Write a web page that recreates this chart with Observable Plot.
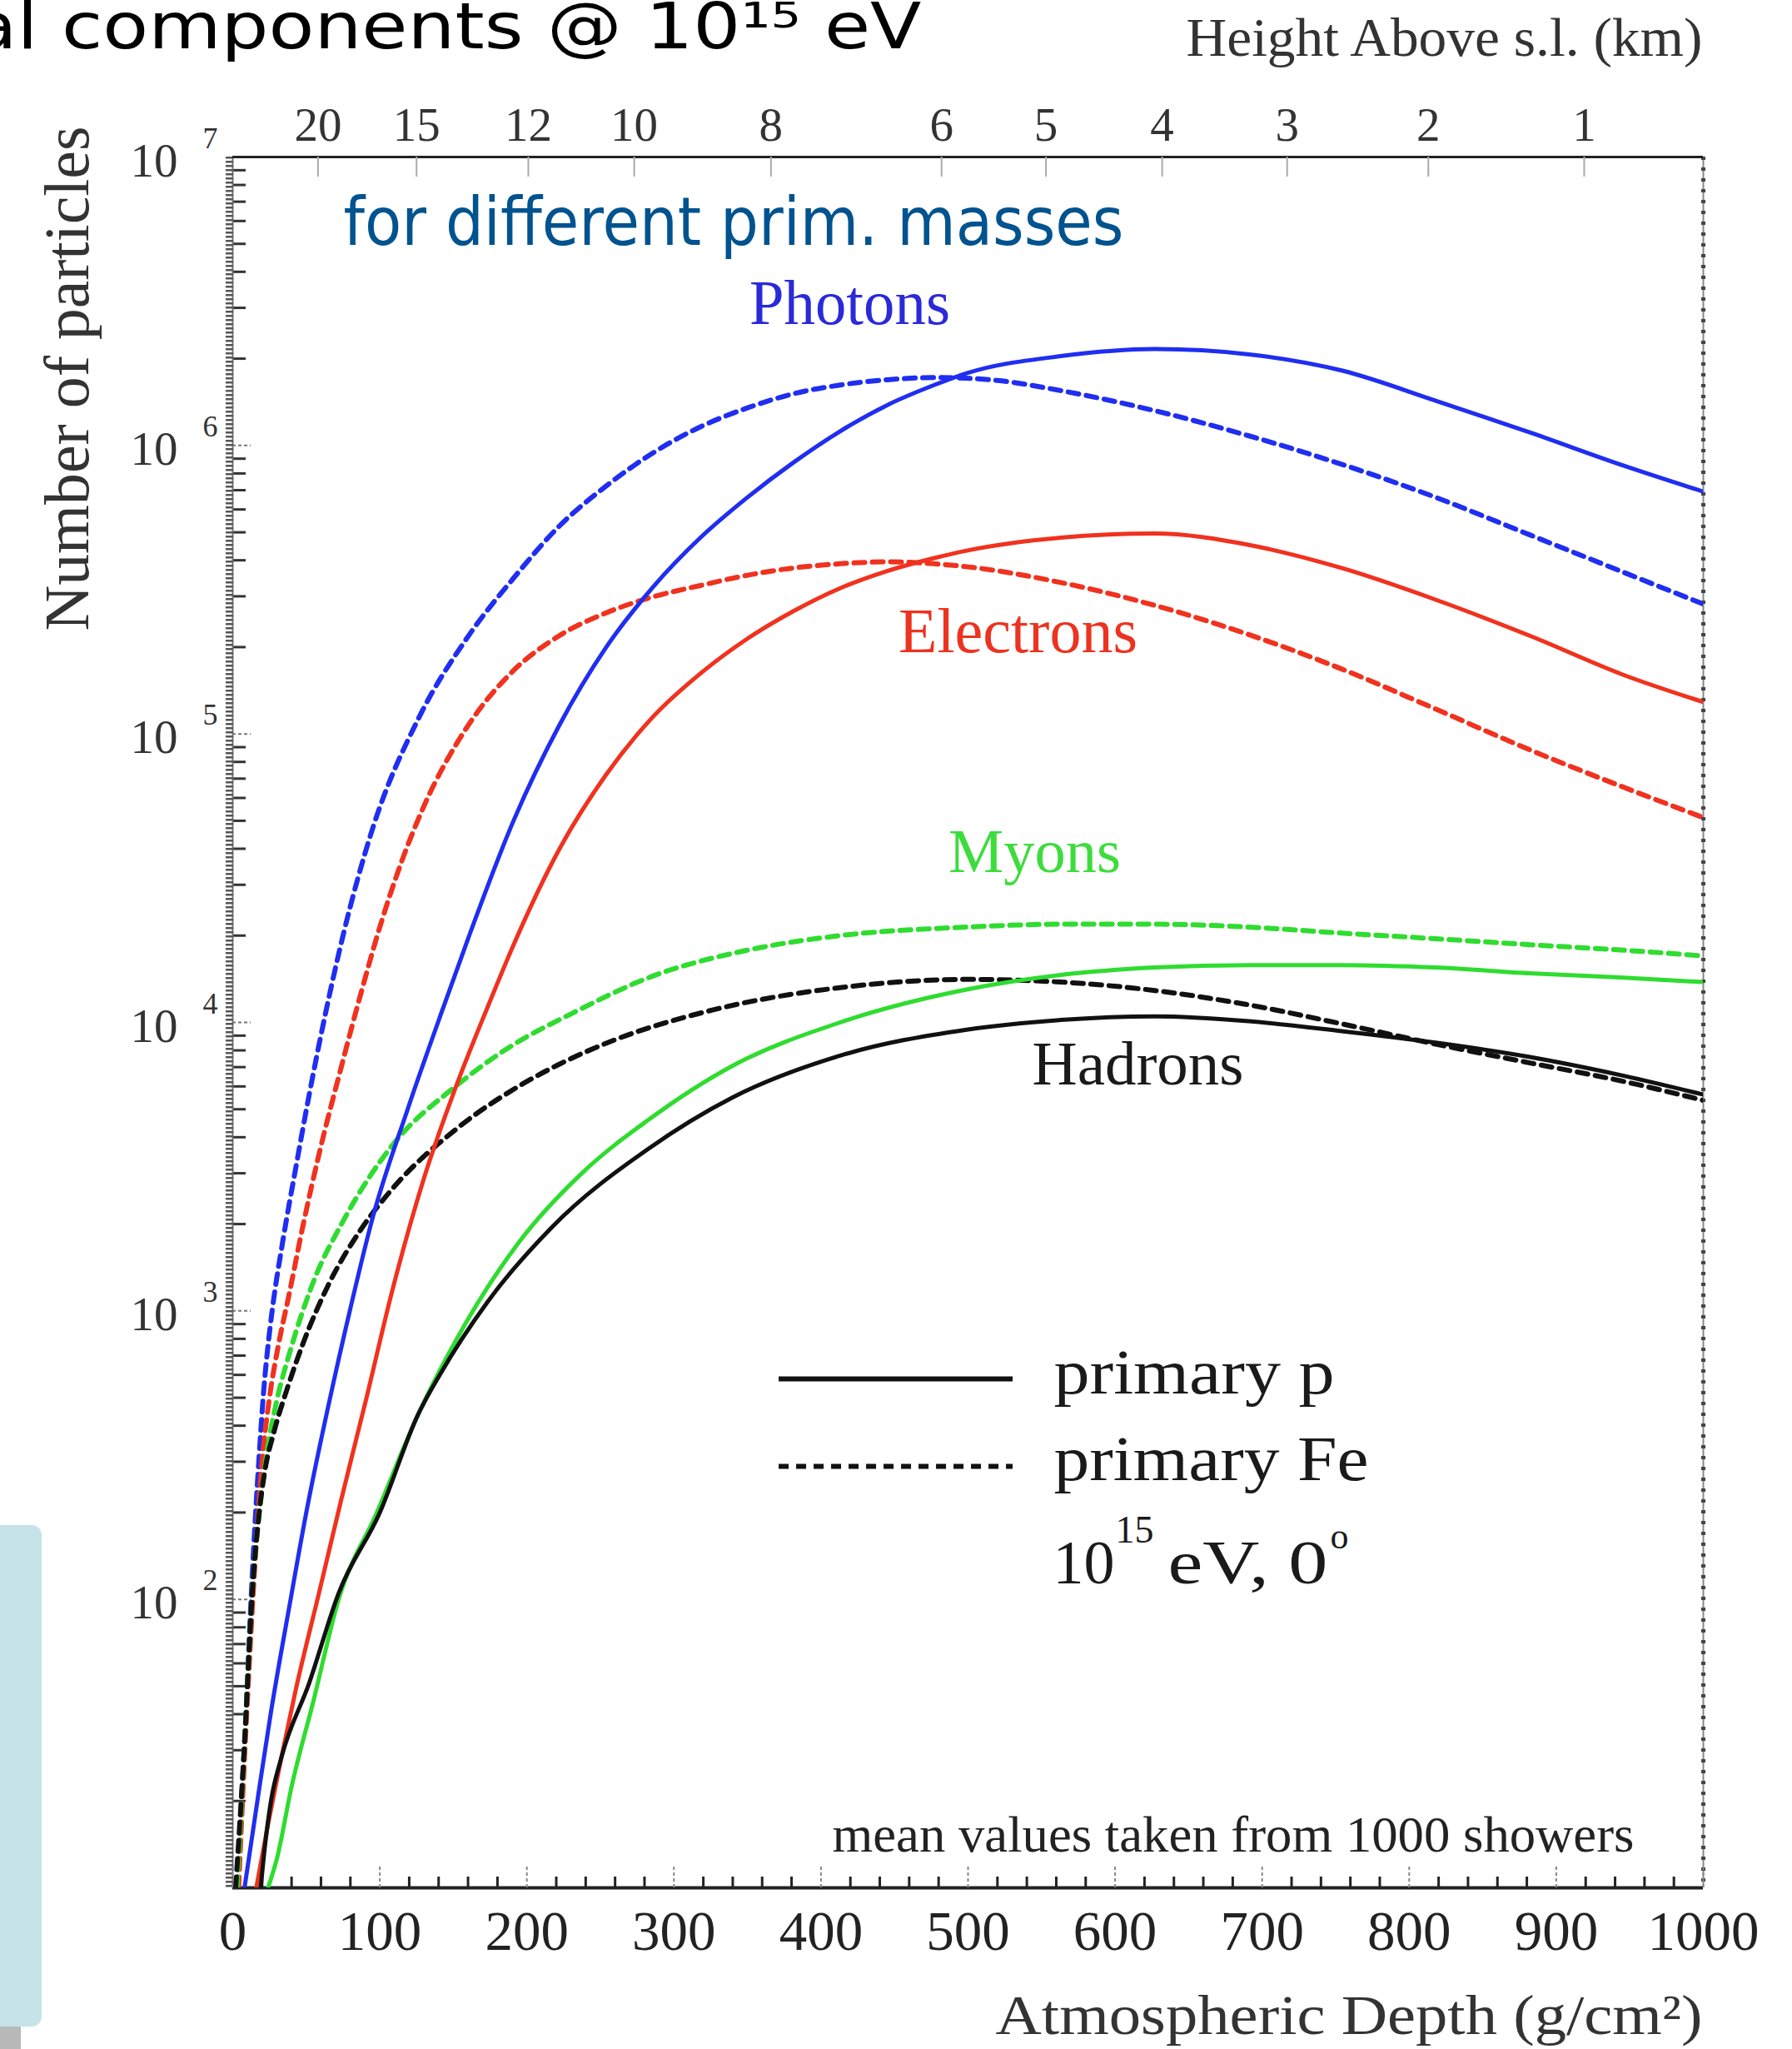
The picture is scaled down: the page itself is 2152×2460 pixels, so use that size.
<!DOCTYPE html>
<html><head><meta charset="utf-8">
<script src="https://cdn.jsdelivr.net/npm/d3@7"></script>
<script src="https://cdn.jsdelivr.net/npm/@observablehq/plot@0.6"></script>
<style>
html,body{margin:0;padding:0;background:#fff;}
#chart{position:relative;width:2152px;height:2460px;overflow:hidden;background:#fff;}
#chart svg{position:absolute;left:0;top:0;}
.deco{position:absolute;}
</style></head><body>
<div id="chart">
  <div class="deco" style="left:0;top:1831px;width:50px;height:602px;background:#c5e3e8;border-radius:0 12px 12px 0;"></div>
  <div class="deco" style="left:0;top:2433px;width:25px;height:27px;background:#b9b9b9;"></div>
</div>
<script>
// ---------- data: [atmospheric depth g/cm2, number of particles] ----------
const photonsP = [[8,10],[17,20.4],[26,40.7],[39,97.7],[50,200],[65,468],[80,1020],[95,2090],[119,5010],[143,11200],[160,19500],[191,50100],[222,107000],[254,200000],[286,324000],[318,479000],[350,661000],[381,871000],[413,1120000],[445,1380000],[477,1620000],[499,1780000],[563,2040000],[627,2160000],[691,2070000],[754,1820000],[818,1430000],[882,1110000],[946,851000],[1000,692000]];
const photonsFe = [[3,10],[6,20],[9,39.8],[12,89.1],[15,178],[18,316],[21,525],[24,759],[27,1020],[34,1740],[43,3160],[52,5620],[63,10700],[75,20000],[95,46800],[127,115000],[159,214000],[191,347000],[222,525000],[254,724000],[286,944000],[318,1160000],[350,1350000],[381,1510000],[413,1620000],[445,1690000],[480,1720000],[520,1680000],[563,1550000],[627,1320000],[691,1080000],[754,861000],[818,661000],[882,490000],[946,363000],[1000,282000]];
const electronsP = [[16,10],[24,16.6],[33,28.2],[43,49],[59,107],[74,224],[91,501],[108,1150],[130,2880],[152,6030],[173,11200],[191,18600],[222,39800],[254,72400],[286,115000],[318,162000],[350,214000],[381,266000],[413,320000],[445,367000],[477,407000],[499,432000],[563,479000],[627,495000],[691,452000],[754,376000],[818,292000],[882,219000],[946,160000],[1000,129000]];
const electronsFe = [[4,10],[8,28.2],[12,70.8],[16,158],[20,302],[25,501],[31,759],[38,1120],[48,2000],[59,3550],[73,6760],[86,12000],[100,21400],[115,36300],[130,56200],[159,105000],[191,166000],[222,219000],[254,263000],[286,299000],[318,327000],[350,355000],[381,376000],[413,389000],[445,395000],[477,389000],[499,380000],[563,335000],[627,279000],[691,221000],[754,168000],[818,122000],[882,88100],[946,65300],[1000,51300]];
const myonsP = [[24,10],[30,12.6],[40,22.4],[55,44.7],[72,100],[98,200],[126,437],[152,794],[195,1740],[238,3020],[282,4570],[340,7080],[413,10000],[499,13000],[563,14600],[627,15500],[691,15800],[754,15800],[818,15500],[882,14800],[946,14300],[1000,13800]];
const myonsFe = [[3,10],[8,31.6],[13,100],[18,200],[23,316],[30,490],[39,724],[54,1230],[76,2090],[108,3720],[152,6030],[190,8320],[230,10700],[286,14500],[350,17800],[413,20000],[499,21400],[563,21900],[627,21900],[691,21400],[754,20400],[818,19500],[882,18600],[946,17800],[1000,17000]];
const hadronsP = [[19,10],[22,14.1],[26,20],[33,28.2],[52,51.3],[72,105],[100,200],[126,437],[141,603],[173,1070],[217,1950],[282,3630],[340,5500],[413,7670],[499,9440],[563,10200],[627,10500],[691,10100],[754,9330],[818,8510],[882,7590],[946,6530],[1000,5620]];
const hadronsFe = [[2,10],[8,31.6],[13,100],[18,200],[22,282],[28,380],[37,537],[48,776],[65,1230],[87,1910],[108,2630],[152,4270],[195,6030],[222,7160],[260,8710],[325,11000],[413,13200],[499,14100],[563,13800],[627,12900],[691,11500],[754,9890],[818,8410],[882,7240],[946,6240],[1000,5370]];

// ---------- axes / tick labels ----------
const xTickLabels = [0,100,200,300,400,500,600,700,800,900,1000];
const yLabelValues = [1e2,1e3,1e4,1e5,1e6,1e7];
const yExponents = ["2","3","4","5","6","7"];
const heightKm = [20,15,12,10,8,6,5,4,3,2,1];
const heightDepth = [58,125,201,273,366,482,553,632,717,813,919];
const seriesLabels = ["Photons","Electrons","Myons","Hadrons"];

// ---------- layout ----------
const W=2152,H=2460,mL=279,mR=107,mT=188,mB=194;
const FW=W-mL-mR, FH=H-mT-mB;
const serif="'Liberation Serif','Times New Roman',Times,serif";
const sans="'DejaVu Sans',Verdana,sans-serif";
const BLUE="#1f2ef0", RED="#f0321e", GREEN="#2fdc2f", BLACK="#111111";

const yAll = d3.scaleLog().domain([10,1e7]).ticks();
const yMinor = yAll.filter(v => Math.abs(Math.log10(v) - Math.round(Math.log10(v))) > 1e-6);
const yMajorInner = yAll.filter(v => !yMinor.includes(v) && v>10 && v<1e7);
const xMinor = d3.range(0,1001,20).filter(v => v%100!==0);

function curve(data, color, dashed){
  return Plot.line(data, {x:d=>d[0], y:d=>d[1], stroke:color,
    strokeWidth: dashed?6:5, strokeDasharray: dashed?"13 9":null,
    curve:"monotone-x", clip:true});
}
function note(text, xpx, ypx, o){
  return Plot.text([text], Object.assign({frameAnchor:"top-left", text:d=>d,
    dx:xpx-mL, dy:ypx-mT, lineAnchor:"bottom", fontFamily:serif}, o));
}
// rendered widths (px) of texts, to match the reference's letter widths
const fitWidths = new Map([
  ["al components @ 10\u00B9\u2075 eV", 1141],
  ["for different prim. masses", 937],
  ["Height Above s.l. (km)", 620],
  ["Atmospheric Depth (g/cm\u00B2)", 849],
  ["mean values taken from 1000 showers", 963],
  ["primary p", 337], ["primary Fe", 378], ["eV, 0", 192],
  ["Photons", 241], ["Electrons", 287], ["Myons", 207], ["Hadrons", 254],
  ["Number of particles", 606]
]);

const plot = Plot.plot({
  width:W, height:H, marginLeft:mL, marginRight:mR, marginTop:mT, marginBottom:mB,
  x:{domain:[0,1000], axis:null},
  y:{type:"log", domain:[10,1e7], axis:null},
  style:{background:"transparent", color:"#222"},
  marks:[
    // frame & ticks
    Plot.ruleY(yMinor, {insetRight:FW-16, stroke:"#333", strokeWidth:3}),
    Plot.ruleY(yMajorInner, {insetRight:FW-22, stroke:"#777", strokeWidth:2, strokeDasharray:"4 3"}),
    Plot.ruleX([0], {stroke:"#777", strokeWidth:2}),
    Plot.ruleX([0], {dx:-4, stroke:"#555", strokeWidth:9, strokeDasharray:"2.5 2.5"}),
    Plot.ruleX([1000], {stroke:"#888", strokeWidth:2}),
    Plot.ruleX([1000], {stroke:"#444", strokeWidth:5, strokeDasharray:"4 9"}),
    Plot.ruleY([1e7], {stroke:"#222", strokeWidth:3}),
    Plot.ruleY([10], {stroke:"#222", strokeWidth:4}),
    Plot.ruleX(xMinor, {insetTop:FH-13, stroke:"#222", strokeWidth:3}),
    Plot.ruleX(xTickLabels, {insetTop:FH-25, stroke:"#888", strokeWidth:2, strokeDasharray:"4 3"}),
    Plot.ruleX(heightDepth, {insetBottom:FH-24, stroke:"#aaa", strokeWidth:2}),
    // curves
    curve(photonsFe, BLUE, true),
    curve(electronsFe, RED, true),
    curve(myonsFe, GREEN, true),
    curve(hadronsFe, BLACK, true),
    curve(photonsP, BLUE, false),
    curve(electronsP, RED, false),
    curve(myonsP, GREEN, false),
    curve(hadronsP, BLACK, false),
    // tick labels
    Plot.text(xTickLabels, {x:d=>d, frameAnchor:"bottom", text:d=>String(d), dy:74, lineAnchor:"bottom", fontSize:67, fontFamily:serif, fill:"#222"}),
    Plot.text(heightKm, {x:(d,i)=>heightDepth[i], frameAnchor:"top", text:d=>String(d), dy:-20, lineAnchor:"bottom", fontSize:57, fontFamily:serif, fill:"#333"}),
    Plot.text(yLabelValues, {y:d=>d, frameAnchor:"left", text:()=>"10", textAnchor:"end", dx:-66, dy:23, lineAnchor:"bottom", fontSize:57, fontFamily:serif, fill:"#333"}),
    Plot.text(yLabelValues, {y:d=>d, frameAnchor:"left", text:(d,i)=>yExponents[i], textAnchor:"start", dx:-36, dy:-11, lineAnchor:"bottom", fontSize:36, fontFamily:serif, fill:"#333"}),
    // axis titles
    Plot.text(["Number of particles"], {frameAnchor:"top-left", text:d=>d, rotate:-90, dx:105-mL, dy:454-mT, lineAnchor:"bottom", textAnchor:"middle", fontSize:76, fontFamily:serif, fill:"#333"}),
    note("Atmospheric Depth (g/cm\u00B2)", 2044, 2441, {textAnchor:"end", fontSize:68, fill:"#333"}),
    note("Height Above s.l. (km)", 2044, 66, {textAnchor:"end", fontSize:65, fill:"#333"}),
    // annotations
    note("al components @ 10\u00B9\u2075 eV", -35, 57, {textAnchor:"start", fontSize:76, fontFamily:sans, fill:"#000"}),
    note("for different prim. masses", 412, 293, {textAnchor:"start", fontSize:80, fontFamily:sans, fill:"#00538f"}),
    note(seriesLabels[0], 1020, 388, {textAnchor:"middle", fontSize:76, fill:"#2a2ad8"}),
    note(seriesLabels[1], 1222, 782, {textAnchor:"middle", fontSize:76, fill:"#ec3320"}),
    note(seriesLabels[2], 1242, 1046, {textAnchor:"middle", fontSize:75, fill:"#3ddc3d"}),
    note(seriesLabels[3], 1366, 1301, {textAnchor:"middle", fontSize:75, fill:"#1a1a1a"}),
    note("mean values taken from 1000 showers", 999, 2222, {textAnchor:"start", fontSize:61, fill:"#222"}),
    // legend
    Plot.ruleY([581], {x1:371.5, x2:530.6, stroke:"#111", strokeWidth:6}),
    Plot.ruleY([289], {x1:371.5, x2:530.6, stroke:"#111", strokeWidth:6, strokeDasharray:"12 9"}),
    note("primary p", 1265, 1672, {textAnchor:"start", fontSize:76, fill:"#1a1a1a"}),
    note("primary Fe", 1265, 1776, {textAnchor:"start", fontSize:76, fill:"#1a1a1a"}),
    note("10", 1264, 1900, {textAnchor:"start", fontSize:74, fill:"#1a1a1a"}),
    note("15", 1339, 1851, {textAnchor:"start", fontSize:46, fill:"#1a1a1a"}),
    note("eV, 0", 1402, 1900, {textAnchor:"start", fontSize:74, fill:"#1a1a1a"}),
    note("o", 1597, 1858, {textAnchor:"start", fontSize:44, fill:"#1a1a1a"})
  ]
});
d3.select(plot).selectAll("text").each(function(){
  const w = fitWidths.get(this.textContent);
  if (w) { this.setAttribute("textLength", w); this.setAttribute("lengthAdjust", "spacingAndGlyphs"); }
});
document.getElementById("chart").appendChild(plot);
</script></body></html>
